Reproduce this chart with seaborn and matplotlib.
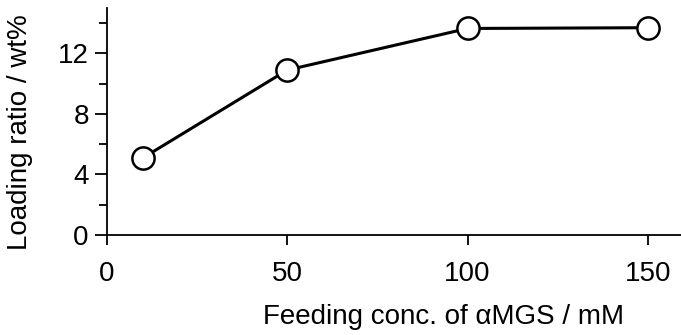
import matplotlib.pyplot as plt
import pandas as pd
import seaborn as sns
from matplotlib.ticker import MultipleLocator

# feeding concentration (mM) vs loading ratio (wt%)
feed_conc = [10, 50, 100, 150]
loading_ratio = [5.1, 10.9, 13.65, 13.7]

df = pd.DataFrame({"conc": feed_conc, "loading": loading_ratio})

sns.set_style("ticks")
plt.rcParams["font.family"] = ["Liberation Sans", "DejaVu Sans"]
plt.rcParams["axes.labelcolor"] = "black"
plt.rcParams["text.color"] = "black"

fig = plt.figure(figsize=(6.81, 3.35), dpi=100)
ax = fig.add_axes([0.157, 0.2985, 0.843, 0.6775])

sns.lineplot(
    data=df,
    x="conc",
    y="loading",
    ax=ax,
    color="black",
    linewidth=2.2,
    marker="o",
    markersize=16,
    markerfacecolor="white",
    markeredgecolor="black",
    markeredgewidth=1.8,
    clip_on=False,
    zorder=3,
)

ax.set_xlim(0, 159.2)
ax.set_ylim(0, 15)
ax.xaxis.set_major_locator(MultipleLocator(50))
ax.yaxis.set_major_locator(MultipleLocator(4))
ax.yaxis.set_minor_locator(MultipleLocator(2))

for side in ["top", "right"]:
    ax.spines[side].set_visible(False)
for side in ["left", "bottom"]:
    ax.spines[side].set_linewidth(1.3)
    ax.spines[side].set_color("black")

ax.tick_params(axis="x", which="major", direction="out", length=7.5, width=1.3,
               pad=11, labelsize=20, colors="black")
ax.tick_params(axis="y", which="major", direction="out", length=9, width=1.3,
               pad=4, labelsize=20, colors="black")
ax.tick_params(axis="y", which="minor", direction="out", length=6, width=1.3,
               colors="black")

ax.set_xlabel("Feeding conc. of αMGS / mM", fontsize=20, color="black")
ax.set_ylabel("Loading ratio / wt%", fontsize=20, color="black")
ax.xaxis.set_label_coords(0.587, -0.305)
ax.yaxis.set_label_coords(-0.129, 0.454)

fig.savefig("out.png", dpi=100)
